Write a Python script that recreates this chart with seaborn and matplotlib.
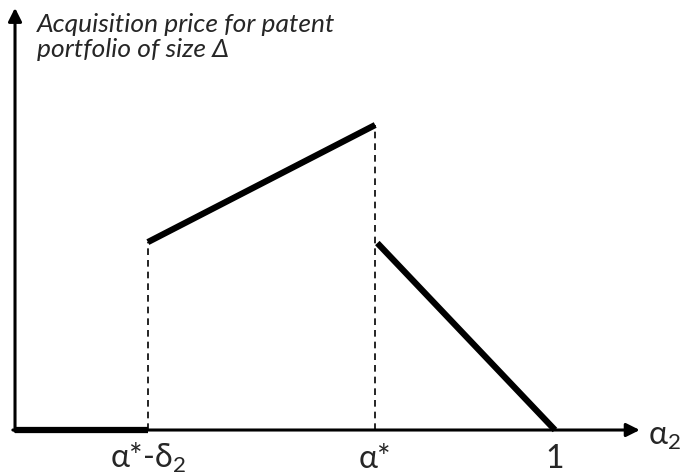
import seaborn as sns
import pandas as pd
import numpy as np
from matplotlib import pyplot as plt

sns.set_theme(style="white")
plt.rcParams["font.family"] = ["Lato", "DejaVu Sans"]
plt.rcParams["mathtext.default"] = "regular"

# break points on the alpha_2 axis (1 is the right end of the price curve)
TICK_POS = [0.246, 0.667, 1.0]
TICK_LABELS = ["α*-δ$_2$", "α*", "1"]

# price curve pieces
ZERO_X = [0.0, 0.246]
ZERO_Y = [0.0, 0.0]
RISE_X = [0.246, 0.667]
RISE_Y = [0.616, 1.0]
FALL_X = [0.671, 1.0]
FALL_Y = [0.613, 0.0]

Y_TITLE = "Acquisition price for patent\nportfolio of size Δ"
X_TITLE = "α$_2$"


def plot_price_curve(save_path="out.png"):
    fig = plt.figure(figsize=(6.8, 4.75), dpi=100)
    ax = fig.add_axes([0, 0, 1, 1])
    ax.set_xlim(-0.0278, 1.2315)
    ax.set_ylim(-0.1475, 1.4098)
    ax.axis("off")

    # axes with arrow heads
    ax.annotate("", xy=(1.157, 0), xytext=(-0.004, 0),
                arrowprops=dict(arrowstyle="-|>", lw=2.2, color="black",
                                mutation_scale=20, shrinkA=0, shrinkB=0))
    ax.annotate("", xy=(0, 1.384), xytext=(0, -0.004),
                arrowprops=dict(arrowstyle="-|>", lw=2.2, color="black",
                                mutation_scale=20, shrinkA=0, shrinkB=0))

    # dashed guides
    ax.vlines([RISE_X[0], RISE_X[1]], 0, [RISE_Y[0], RISE_Y[1]],
              colors="black", linestyles=(0, (4, 3)), lw=1.2)

    for xs, ys in [(ZERO_X, ZERO_Y), (RISE_X, RISE_Y), (FALL_X, FALL_Y)]:
        seg = pd.DataFrame({"x": xs, "y": ys})
        sns.lineplot(data=seg, x="x", y="y", color="black", lw=4.5,
                     solid_capstyle="butt", ax=ax)

    for pos, lab in zip(TICK_POS, TICK_LABELS):
        ax.annotate(lab, xy=(pos, 0), xytext=(0, -27), textcoords="offset points",
                    ha="center", va="baseline", fontsize=23)

    ax.annotate(X_TITLE, xy=(1.157, 0), xytext=(6, -11), textcoords="offset points",
                ha="left", va="baseline", fontsize=23)
    ax.text(37 / 680, 1 - 13 / 475, Y_TITLE, transform=ax.transAxes,
            ha="left", va="top", fontsize=19, style="italic", linespacing=1.1)

    if save_path:
        fig.savefig(save_path, dpi=100)


if __name__ == "__main__":
    plot_price_curve()
